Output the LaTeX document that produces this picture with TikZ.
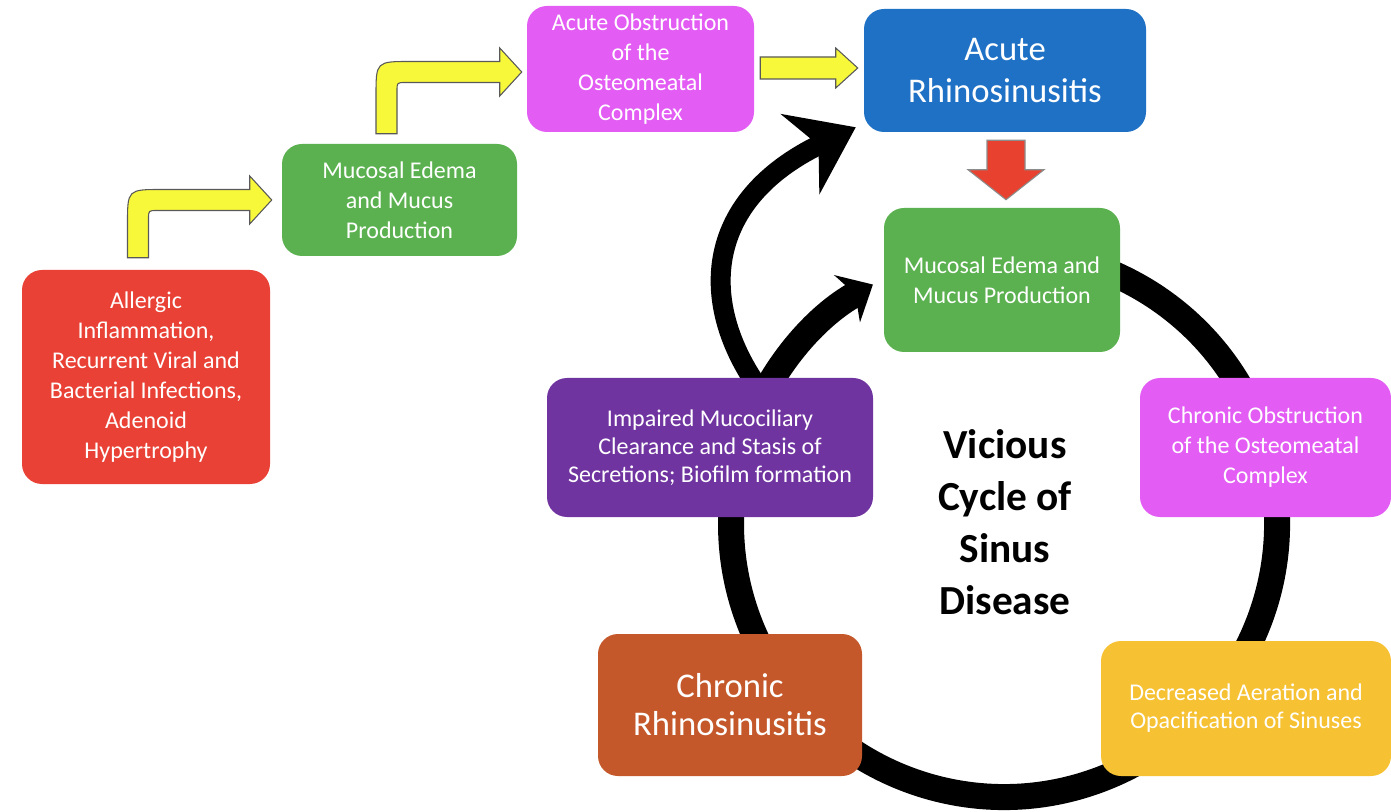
\documentclass[tikz,border=0pt]{standalone}
\usepackage{fontspec}
\setmainfont{Carlito}
\usetikzlibrary{positioning,calc,arrows.meta}
\definecolor{sinred}{HTML}{E94135}
\definecolor{singreen}{HTML}{5BB14F}
\definecolor{sinpink}{HTML}{E35CF4}
\definecolor{sinblue}{HTML}{1F71C5}
\definecolor{sinpurple}{HTML}{7034A0}
\definecolor{sinbrown}{HTML}{C4582A}
\definecolor{sinyellow}{HTML}{F6C233}
\definecolor{arrowyellow}{HTML}{F8F83A}
\definecolor{arrowred}{HTML}{E8412F}
\tikzstyle{box}=[rectangle,rounded corners=15pt,text=white,align=center,inner sep=2pt,font=\fontsize{18}{22.5}\selectfont]
\tikzstyle{bigbox}=[box,font=\fontsize{26}{32}\selectfont]
\tikzstyle{yellowarrow}=[fill=arrowyellow,draw=black!65,line width=0.8pt]
\tikzstyle{redarrow}=[fill=arrowred,draw=black!45,line width=0.8pt]
\tikzstyle{ring}=[draw=black,line width=19.5pt]
\pgfdeclarelayer{background}
\pgfsetlayers{background,main}
% bent block arrow: #1 = foot of the shaft, #2 = tip
\newcommand{\bendarrow}[2]{%
  \coordinate (bk) at (#1 |- #2);
  \draw[yellowarrow] ($(#1)+(-10.5,0)$) -- ($(bk)+(-10.5,24)$)
    .. controls ($(bk)+(-10.5,-10.5)$) .. ($(bk)+(24,-10.5)$)
    -- ($(#2)+(-22,-10.5)$) -- ($(#2)+(-22,-24)$) -- (#2)
    -- ($(#2)+(-22,24)$) -- ($(#2)+(-22,10.5)$) -- ($(bk)+(19,10.5)$)
    .. controls ($(bk)+(10.5,10.5)$) .. ($(bk)+(10.5,19)$)
    -- ($(#1)+(10.5,0)$) -- cycle;}

\begin{document}
\begin{tikzpicture}[x=0.75pt,y=-0.75pt]
  \useasboundingbox (0,0) rectangle (1391,812);

  % left chain
  \node[box,fill=sinred,minimum width=186pt,minimum height=160.5pt] (allergy) at (146,377)
    {Allergic\\Inflammation,\\Recurrent Viral and\\Bacterial Infections,\\Adenoid\\Hypertrophy};
  \node[box,fill=singreen,minimum width=176.25pt,minimum height=84pt] (edema1) at (399.5,200)
    {Mucosal Edema\\and Mucus\\Production};
  \node[box,fill=sinpink,minimum width=170.25pt,minimum height=94.5pt] (acuteomc) at (640.5,69)
    {Acute Obstruction\\of the\\Osteomeatal\\Complex};
  \node[bigbox,fill=sinblue,minimum width=211.5pt,minimum height=92.25pt] (acute) at (1005,70.5)
    {Acute\\Rhinosinusitis};

  % the cycle
  \node[box,fill=singreen,minimum width=177pt,minimum height=108pt] (edema2) at (1002,280)
    {Mucosal Edema and\\Mucus Production};
  \node[box,fill=sinpink,minimum width=188.25pt,minimum height=104.25pt] (chronomc) at (1265.5,447.5)
    {Chronic Obstruction\\of the Osteomeatal\\Complex};
  \node[box,fill=sinyellow,minimum width=217.5pt,minimum height=101.25pt,font=\fontsize{18}{21}\selectfont] (aeration) at (1246,708.5)
    {Decreased Aeration and\\Opacification of Sinuses};
  \node[bigbox,fill=sinbrown,minimum width=198pt,minimum height=106.5pt,font=\fontsize{26}{28.5}\selectfont] (chronic) at (730,705)
    {Chronic\\Rhinosinusitis};
  \node[box,fill=sinpurple,minimum width=244.5pt,minimum height=104.25pt,font=\fontsize{18}{21}\selectfont] (impaired) at (710,447.5)
    {Impaired Mucociliary\\Clearance and Stasis of\\Secretions; Biofilm formation};
  \node[font=\bfseries\fontsize{31}{39}\selectfont,align=center] (title) at (1005,522)
    {Vicious\\Cycle of\\Sinus\\Disease};
  \coordinate (cyc) at (1004,524);

  % yellow and red block arrows
  \coordinate (s1) at ($(allergy.north)+(-8,-12)$);
  \coordinate (t1) at ($(edema1.west)+(-10,0)$);
  \bendarrow{s1}{t1}
  \coordinate (s2) at ($(edema1.north)+(-13,-10)$);
  \coordinate (t2) at ($(acuteomc.west)+(-5,3)$);
  \bendarrow{s2}{t2}
  \coordinate (fa1) at ($(acuteomc.east)+(6,-1)$);
  \coordinate (fa2) at ($(fa1 -| acute.west)+(-6,0)$);
  \draw[yellowarrow] ($(fa1)+(0,-11)$) -- ($(fa2)+(-22,-11)$) -- ($(fa2)+(-22,-20)$) -- (fa2)
    -- ($(fa2)+(-22,20)$) -- ($(fa2)+(-22,11)$) -- ($(fa1)+(0,11)$) -- cycle;
  \coordinate (ra1) at ($(acute.south)+(1,8)$);
  \coordinate (ra2) at ($(ra1 |- edema2.north)+(0,-8)$);
  \draw[redarrow] ($(ra1)+(-19,0)$) -- ($(ra2)+(-19,-30)$) -- ($(ra2)+(-38,-30)$) -- (ra2)
    -- ($(ra2)+(38,-30)$) -- ($(ra2)+(19,-30)$) -- ($(ra1)+(19,0)$) -- cycle;

  % black ring and arrows behind the boxes
  \begin{pgfonlayer}{background}
    \draw[ring] (cyc) ++(-113:273) arc[start angle=-113,end angle=210,radius=273];
    \draw[ring,-{Stealth[length=22pt,width=40pt,inset=7pt]}] (cyc) ++(200:273)
      arc[start angle=200,end angle=241.3,radius=273];
    \coordinate (bigfoot) at ($(impaired.north)+(47,8)$);
    \coordinate (bigtip) at ($(acute.south west)+(-8,-5)$);
    \draw[line width=15pt,-{Stealth[length=46pt,width=66pt,inset=15pt]}] (bigfoot)
      .. controls (698,300) and (705,200) .. (bigtip);
  \end{pgfonlayer}
\end{tikzpicture}
\end{document}
